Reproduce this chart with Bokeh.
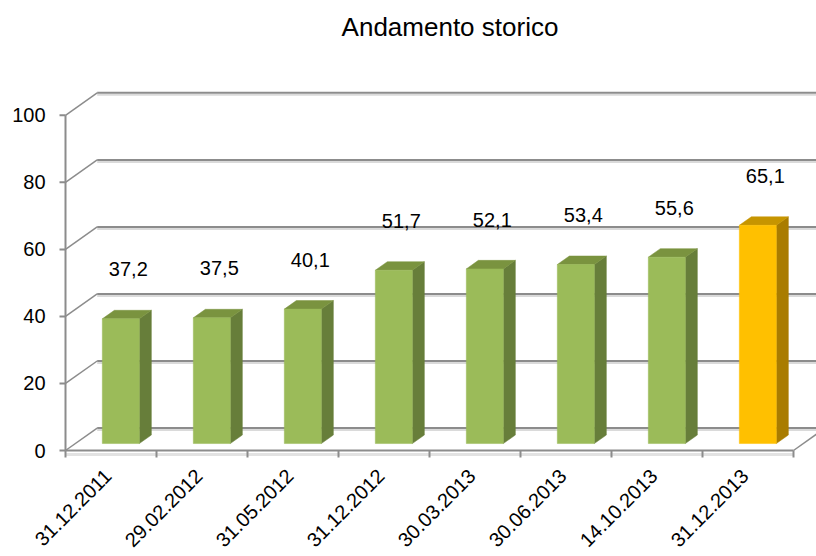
from math import pi
from bokeh.plotting import figure
from bokeh.models import ColumnDataSource, Range1d
from bokeh.core.properties import value
from bokeh.embed import file_html
from bokeh.resources import INLINE

# ---- data ----
categories = ["31.12.2011", "29.02.2012", "31.05.2012", "31.12.2012",
              "30.03.2013", "30.06.2013", "14.10.2013", "31.12.2013"]
values = [37.2, 37.5, 40.1, 51.7, 52.1, 53.4, 55.6, 65.1]
value_labels = ["37,2", "37,5", "40,1", "51,7", "52,1", "53,4", "55,6", "65,1"]
y_ticks = [0, 20, 40, 60, 80, 100]
y_tick_labels = ["0", "20", "40", "60", "80", "100"]
highlight = "31.12.2013"
chart_title = "Andamento storico"

# ---- style / 3-D geometry ----
FONT = "Liberation Sans"
DX, DY = 0.348, 6.7          # depth offset (category units, value units)
F1, F2 = 0.31, 0.69          # bar depth extent (fraction of depth)
BW = 0.4066                  # bar width (category units)
GRID = "#8c8c8c"
SHADOW = "#dadada"
GREEN = ("#9bbb59", "#677e3a", "#7a933f")
GOLD = ("#ffc000", "#a97c00", "#c69500")
PXU = 3.352                  # pixels per value unit
PXC = 91.0                   # pixels per category

n = len(categories)
m = len(y_ticks)
p = figure(width=816, height=556,
           x_range=Range1d(-65 / PXC, 751 / PXC), y_range=Range1d(-106 / PXU, 450 / PXU),
           output_backend="svg", toolbar_location=None,
           x_axis_location=None, y_axis_location=None,
           min_border_left=0, min_border_right=0,
           min_border_top=0, min_border_bottom=0)
p.outline_line_color = None
p.xgrid.visible = False
p.ygrid.visible = False

# ---- title ----
p.text(x=[n / 2 + 0.225], y=[424 / PXU], text=[chart_title], text_font=value(FONT),
       text_font_size="26px", text_align="center", text_baseline="alphabetic",
       text_color="black")

# ---- walls / gridlines ----
xmax = n + DX
p.segment(x0=[DX] * m, y0=[t + DY - 0.6 for t in y_ticks],
          x1=[xmax] * m, y1=[t + DY - 0.6 for t in y_ticks],
          line_color=SHADOW, line_width=2)
p.segment(x0=[DX] * m, y0=[t + DY for t in y_ticks],
          x1=[xmax] * m, y1=[t + DY for t in y_ticks],
          line_color=GRID, line_width=2)
p.segment(x0=[0] * m, y0=y_ticks, x1=[DX] * m, y1=[t + DY for t in y_ticks],
          line_color=GRID, line_width=1.5)
p.segment(x0=[n], y0=[0], x1=[n + DX], y1=[DY], line_color=GRID, line_width=1.5)

# ---- y axis (front edge of side wall) ----
p.segment(x0=[0], y0=[y_ticks[0]], x1=[0], y1=[y_ticks[-1]], line_color=GRID, line_width=2)
p.segment(x0=[0] * m, y0=y_ticks, x1=[-6 / PXC] * m, y1=y_ticks,
          line_color=GRID, line_width=2)
p.text(x=[-20 / PXC] * m, y=y_ticks, text=y_tick_labels, text_font=value(FONT),
       text_font_size="20px", text_align="right", text_baseline="middle",
       text_color="black")

# ---- front floor edge (x axis) ----
bounds_ticks = list(range(n + 1))
p.segment(x0=[0], y0=[-1.2], x1=[n], y1=[-1.2], line_color="#e2e2e2", line_width=3)
p.segment(x0=bounds_ticks, y0=[0] * (n + 1), x1=bounds_ticks, y1=[-7 / PXU] * (n + 1),
          line_color=GRID, line_width=2)
p.segment(x0=[0], y0=[0], x1=[n], y1=[0], line_color=GRID, line_width=2)

# ---- bars ----
left, right, bottom, top = [], [], [], []
side_xs, side_ys, top_xs, top_ys = [], [], [], []
fc, sc, tc = [], [], []
ddx, ddy = (F2 - F1) * DX, (F2 - F1) * DY
for i, (c, v) in enumerate(zip(categories, values)):
    x0 = i + 0.5 - BW / 2 + F1 * DX
    x1 = x0 + BW
    y0 = F1 * DY
    y1 = y0 + v
    left.append(x0); right.append(x1); bottom.append(y0); top.append(y1)
    side_xs.append([x1, x1 + ddx, x1 + ddx, x1])
    side_ys.append([y0, y0 + ddy, y1 + ddy, y1])
    top_xs.append([x0, x1, x1 + ddx, x0 + ddx])
    top_ys.append([y1, y1, y1 + ddy, y1 + ddy])
    col = GOLD if c == highlight else GREEN
    fc.append(col[0]); sc.append(col[1]); tc.append(col[2])

p.patches(xs=side_xs, ys=side_ys, fill_color=sc, line_color=sc, line_width=0.5)
p.patches(xs=top_xs, ys=top_ys, fill_color=tc, line_color=tc, line_width=0.5)
p.quad(left=left, right=right, bottom=bottom, top=top,
       fill_color=fc, line_color=fc, line_width=0.5)

# ---- value labels ----
lab_src = ColumnDataSource(dict(
    x=[i + 0.5 + 0.19 for i in range(n)],
    y=[v + 16.8 for v in values],
    t=value_labels))
p.text(x="x", y="y", text="t", source=lab_src, text_font=value(FONT),
       text_font_size="20px", text_align="center", text_baseline="alphabetic",
       text_color="black")

# ---- category labels (rotated) ----
cat_src = ColumnDataSource(dict(x=[i + 0.5 for i in range(n)],
                                y=[-22 / PXU] * n, t=categories))
p.text(x="x", y="y", text="t", source=cat_src, angle=pi / 4, x_offset=-3,
       text_font=value(FONT), text_font_size="20px", text_align="right",
       text_baseline="middle", text_color="black")

open("out.html", "w").write(file_html(p, INLINE))
